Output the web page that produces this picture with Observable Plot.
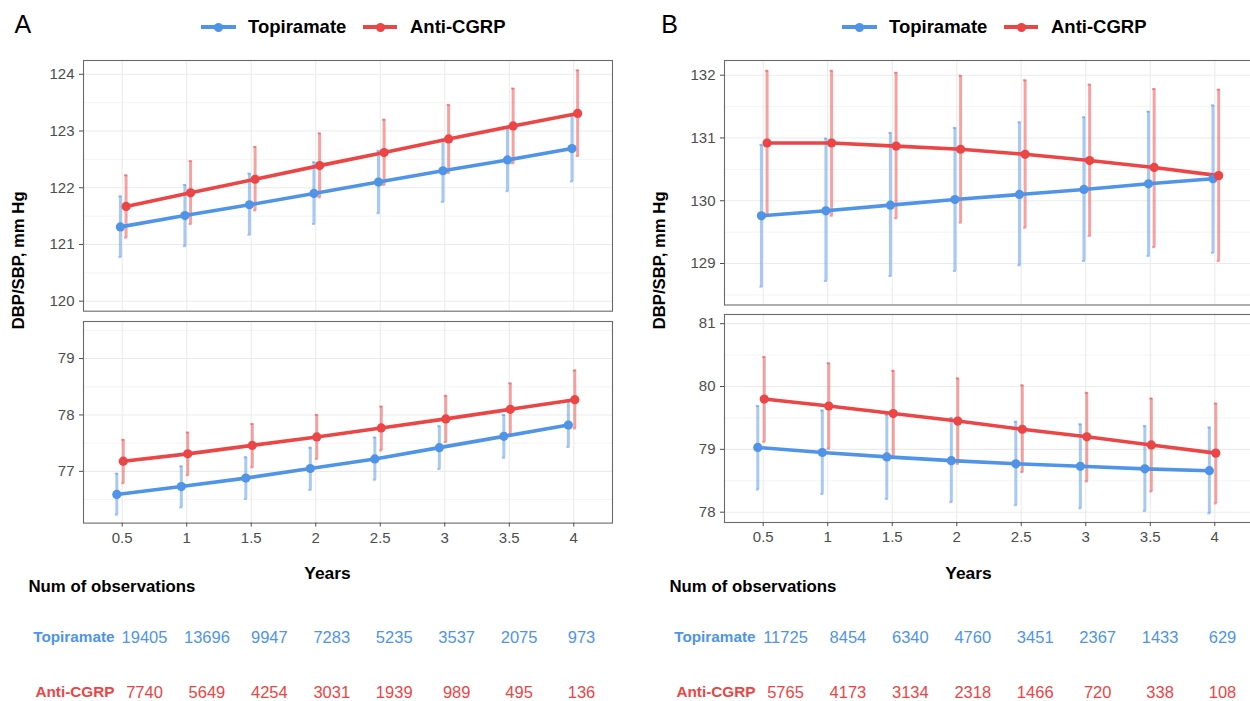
<!DOCTYPE html>
<html><head><meta charset="utf-8">
<script src="https://cdn.jsdelivr.net/npm/d3@7"></script>
<script src="https://cdn.jsdelivr.net/npm/@observablehq/plot@0.6"></script>
<style>
html,body{margin:0;padding:0;width:1250px;height:701px;overflow:hidden;background:#fff;}
#root{position:relative;width:1250px;height:701px;overflow:hidden;font-family:"Liberation Sans",Arial,Helvetica,sans-serif;}
.t{position:absolute;white-space:nowrap;}
</style></head><body><div id="root"></div>
<script>
// ---------- data ----------
const YEARS = [0.5, 1, 1.5, 2, 2.5, 3, 3.5, 4];
const GROUPS = ["Topiramate", "Anti-CGRP"];

// Panel A – SBP
const A_SBP_TPM      = [121.31, 121.51, 121.70, 121.90, 122.10, 122.30, 122.49, 122.69];
const A_SBP_TPM_LO   = [120.78, 120.97, 121.17, 121.36, 121.55, 121.75, 121.94, 122.11];
const A_SBP_TPM_HI   = [121.85, 122.05, 122.25, 122.45, 122.65, 122.85, 123.05, 123.27];
const A_SBP_CGRP     = [121.67, 121.91, 122.15, 122.39, 122.62, 122.86, 123.09, 123.31];
const A_SBP_CGRP_LO  = [121.12, 121.36, 121.60, 121.83, 122.05, 122.26, 122.43, 122.56];
const A_SBP_CGRP_HI  = [122.22, 122.47, 122.72, 122.96, 123.20, 123.46, 123.75, 124.07];
// Panel A – DBP
const A_DBP_TPM      = [76.59, 76.73, 76.88, 77.05, 77.22, 77.42, 77.62, 77.82];
const A_DBP_TPM_LO   = [76.23, 76.36, 76.51, 76.67, 76.85, 77.04, 77.24, 77.43];
const A_DBP_TPM_HI   = [76.96, 77.09, 77.25, 77.42, 77.60, 77.80, 78.00, 78.24];
const A_DBP_CGRP     = [77.18, 77.31, 77.46, 77.61, 77.77, 77.93, 78.10, 78.27];
const A_DBP_CGRP_LO  = [76.79, 76.93, 77.07, 77.22, 77.37, 77.52, 77.66, 77.76];
const A_DBP_CGRP_HI  = [77.56, 77.69, 77.84, 78.00, 78.15, 78.34, 78.56, 78.79];
// Panel B – SBP
const B_SBP_TPM      = [129.76, 129.84, 129.93, 130.02, 130.10, 130.18, 130.27, 130.35];
const B_SBP_TPM_LO   = [128.63, 128.72, 128.80, 128.88, 128.97, 129.04, 129.12, 129.17];
const B_SBP_TPM_HI   = [130.89, 130.99, 131.08, 131.16, 131.25, 131.33, 131.42, 131.52];
const B_SBP_CGRP     = [130.92, 130.92, 130.87, 130.82, 130.74, 130.64, 130.53, 130.40];
const B_SBP_CGRP_LO  = [129.77, 129.76, 129.72, 129.65, 129.57, 129.44, 129.26, 129.04];
const B_SBP_CGRP_HI  = [132.07, 132.07, 132.04, 131.99, 131.92, 131.85, 131.78, 131.77];
// Panel B – DBP
const B_DBP_TPM      = [79.03, 78.95, 78.88, 78.82, 78.77, 78.73, 78.69, 78.66];
const B_DBP_TPM_LO   = [78.36, 78.29, 78.21, 78.16, 78.11, 78.06, 78.02, 77.98];
const B_DBP_TPM_HI   = [79.69, 79.62, 79.55, 79.50, 79.44, 79.40, 79.37, 79.35];
const B_DBP_CGRP     = [79.80, 79.69, 79.57, 79.45, 79.32, 79.20, 79.07, 78.94];
const B_DBP_CGRP_LO  = [79.12, 79.01, 78.89, 78.77, 78.64, 78.49, 78.33, 78.14];
const B_DBP_CGRP_HI  = [80.47, 80.37, 80.25, 80.13, 80.02, 79.90, 79.81, 79.73];

// Number of observations
const A_N_TPM  = [19405, 13696, 9947, 7283, 5235, 3537, 2075, 973];
const A_N_CGRP = [7740, 5649, 4254, 3031, 1939, 989, 495, 136];
const B_N_TPM  = [11725, 8454, 6340, 4760, 3451, 2367, 1433, 629];
const B_N_CGRP = [5765, 4173, 3134, 2318, 1466, 720, 338, 108];

// Tick labels
const A_SBP_TICKS = [120, 121, 122, 123, 124];
const A_SBP_MINOR = [120.5, 121.5, 122.5, 123.5];
const A_DBP_TICKS = [77, 78, 79];
const A_DBP_MINOR = [76.5, 77.5, 78.5, 79.5];
const B_SBP_TICKS = [129, 130, 131, 132];
const B_SBP_MINOR = [128.5, 129.5, 130.5, 131.5];
const B_DBP_TICKS = [78, 79, 80, 81];
const B_DBP_MINOR = [78.5, 79.5, 80.5];

// ---------- styling ----------
const COLORS = ["#4f94e6", "#eb4545"];
const FONT = "'Liberation Sans', Arial, Helvetica, sans-serif";
const X_DOMAIN = [0.2, 4.3];
const root = document.getElementById("root");

function build(mean1, lo1, hi1, mean2, lo2, hi2) {
  const rows = [];
  YEARS.forEach((y, i) => rows.push({year: y, group: GROUPS[0], mean: mean1[i], lo: lo1[i], hi: hi1[i]}));
  YEARS.forEach((y, i) => rows.push({year: y, group: GROUPS[1], mean: mean2[i], lo: lo2[i], hi: hi2[i]}));
  return rows;
}

function place(el, left, top) {
  el.style.position = "absolute";
  el.style.left = left + "px";
  el.style.top = top + "px";
  root.appendChild(el);
}

function facet({rows, yDomain, yTicks, yMinor, fl, fr, ft, fb, showX, off}) {
  const mL = 50, mR = 2, mT = 2, mB = showX ? 34 : 2;
  const pos = d => d.year + off[d.group];
  const CAP = 0.012;
  const svg = Plot.plot({
    width: (fr - fl) + mL + mR, height: (fb - ft) + mT + mB,
    marginLeft: mL, marginRight: mR, marginTop: mT, marginBottom: mB,
    x: {domain: X_DOMAIN, axis: null},
    y: {domain: yDomain, axis: null},
    color: {domain: GROUPS, range: COLORS},
    style: {fontFamily: FONT, fontSize: "15px", background: "transparent", overflow: "visible"},
    marks: [
      Plot.gridY(yMinor, {stroke: "#f1f1f1", strokeOpacity: 1, strokeWidth: 0.8}),
      Plot.gridY(yTicks, {stroke: "#ebebeb", strokeOpacity: 1, strokeWidth: 1.1}),
      Plot.gridX(YEARS, {stroke: "#ebebeb", strokeOpacity: 1, strokeWidth: 1.1}),
      Plot.ruleX(rows, {x: pos, y1: "lo", y2: "hi", stroke: "group", strokeOpacity: 0.5, strokeWidth: 3}),
      Plot.ruleY(rows, {y: "hi", x1: d => pos(d) - CAP, x2: d => pos(d) + CAP, stroke: "group", strokeOpacity: 0.5, strokeWidth: 2}),
      Plot.ruleY(rows, {y: "lo", x1: d => pos(d) - CAP, x2: d => pos(d) + CAP, stroke: "group", strokeOpacity: 0.5, strokeWidth: 2}),
      Plot.line(rows, {x: pos, y: "mean", z: "group", stroke: "group", strokeWidth: 3.6}),
      Plot.dot(rows, {x: pos, y: "mean", fill: "group", r: 4.6}),
      Plot.frame({stroke: "#6a6a6a", strokeWidth: 1.1}),
      Plot.axisY(yTicks, {tickSize: 4, tickPadding: 5, label: null, fontSize: 15, color: "#4d4d4d", tickFormat: d => String(d)}),
      showX ? Plot.axisX(YEARS, {tickSize: 4, tickPadding: 5, label: null, fontSize: 15, color: "#4d4d4d", tickFormat: d => String(d)}) : null
    ]
  });
  place(svg, fl - mL, ft - mT);
}

function text(str, {x, y, size, bold, color = "#000", anchor = "start", rotate = false}) {
  const d = document.createElement("div");
  d.className = "t";
  d.textContent = str;
  d.style.fontSize = size + "px";
  d.style.lineHeight = size + "px";
  d.style.fontWeight = bold ? "bold" : "normal";
  d.style.color = color;
  root.appendChild(d);
  const w = d.offsetWidth;
  if (rotate) {
    d.style.left = (x - w / 2) + "px";
    d.style.top = (y - size / 2) + "px";
    d.style.transform = "rotate(-90deg)";
  } else {
    d.style.left = (anchor === "middle" ? x - w / 2 : anchor === "end" ? x - w : x) + "px";
    d.style.top = (y - size / 2) + "px";
  }
}

function legendKey(x1, x2, y, color) {
  const line = document.createElement("div");
  line.style.cssText = `position:absolute;left:${x1}px;top:${y - 2}px;width:${x2 - x1}px;height:4px;background:${color};`;
  root.appendChild(line);
  const dot = document.createElement("div");
  const cx = (x1 + x2) / 2;
  dot.style.cssText = `position:absolute;left:${cx - 4.5}px;top:${y - 4.5}px;width:9px;height:9px;border-radius:50%;background:${color};`;
  root.appendChild(dot);
}

function table(nTpm, nCgrp, dx) {
  const rows = [];
  YEARS.forEach((y, i) => rows.push({year: y, group: GROUPS[0], n: nTpm[i]}));
  YEARS.forEach((y, i) => rows.push({year: y, group: GROUPS[1], n: nCgrp[i]}));
  const svg = Plot.plot({
    width: 640, height: 141,
    margin: 0,
    x: {type: "linear", domain: [0.5, 4], range: [144, 581], axis: null},
    y: {type: "point", domain: GROUPS, range: [77, 132], padding: 0, axis: null},
    color: {domain: GROUPS, range: COLORS},
    style: {fontFamily: FONT, background: "transparent", overflow: "visible"},
    marks: [
      Plot.text(rows, {x: "year", y: "group", text: d => String(d.n), fill: "group", fontSize: 16.5}),
      Plot.text(GROUPS, {x: 0.5, y: d => d, text: d => d, fill: d => d, dx: -30, textAnchor: "end", fontWeight: "bold", fontSize: 15.3})
    ]
  });
  place(svg, dx, 560);
}

function panel(letter, dx, data, nTpm, nCgrp, sbpDom, dbpDom, sbpTicks, sbpMinor, dbpTicks, dbpMinor, frames) {
  text(letter, {x: 14.5 + dx * 1.009, y: 24, size: 25});
  legendKey(201 + dx, 236 + dx, 27, COLORS[0]);
  text(GROUPS[0], {x: 248 + dx, y: 27, size: 18.5, bold: true});
  legendKey(363 + dx, 397 + dx, 27, COLORS[1]);
  text(GROUPS[1], {x: 410 + dx, y: 27, size: 18.5, bold: true});
  const offTop = {"Topiramate": -0.014, "Anti-CGRP": 0.03};
  const offBot = {"Topiramate": -0.042, "Anti-CGRP": 0.008};
  facet({rows: data.sbp, yDomain: sbpDom, yTicks: sbpTicks, yMinor: sbpMinor,
         fl: frames.l, fr: frames.r, ft: frames.t1, fb: frames.b1, showX: false, off: offTop});
  facet({rows: data.dbp, yDomain: dbpDom, yTicks: dbpTicks, yMinor: dbpMinor,
         fl: frames.l, fr: frames.r, ft: frames.t2, fb: frames.b2, showX: true, off: offBot});
  text("DBP/SBP, mm Hg", {x: 18.5 + dx * 1.0, y: 260, size: 16.7, bold: true, rotate: true});
  text("Years", {x: 327.3 + dx, y: 573.5, size: 17.4, bold: true, anchor: "middle"});
  text("Num of observations", {x: 28.5 + dx, y: 587, size: 16.8, bold: true});
  table(nTpm, nCgrp, dx);
}

panel("A", 0,
  {sbp: build(A_SBP_TPM, A_SBP_TPM_LO, A_SBP_TPM_HI, A_SBP_CGRP, A_SBP_CGRP_LO, A_SBP_CGRP_HI),
   dbp: build(A_DBP_TPM, A_DBP_TPM_LO, A_DBP_TPM_HI, A_DBP_CGRP, A_DBP_CGRP_LO, A_DBP_CGRP_HI)},
  A_N_TPM, A_N_CGRP,
  [119.824, 124.243], [76.082, 79.657],
  A_SBP_TICKS, A_SBP_MINOR, A_DBP_TICKS, A_DBP_MINOR,
  {l: 82.5, r: 611.5, t1: 60, b1: 310.7, t2: 320.7, b2: 522.3});

panel("B", 641,
  {sbp: build(B_SBP_TPM, B_SBP_TPM_LO, B_SBP_TPM_HI, B_SBP_CGRP, B_SBP_CGRP_LO, B_SBP_CGRP_HI),
   dbp: build(B_DBP_TPM, B_DBP_TPM_LO, B_DBP_TPM_HI, B_DBP_CGRP, B_DBP_CGRP_LO, B_DBP_CGRP_HI)},
  B_N_TPM, B_N_CGRP,
  [128.339, 132.234], [77.836, 81.146],
  B_SBP_TICKS, B_SBP_MINOR, B_DBP_TICKS, B_DBP_MINOR,
  {l: 723.7, r: 1252.7, t1: 60, b1: 304.5, t2: 314.3, b2: 522.3});
</script>
</body></html>
